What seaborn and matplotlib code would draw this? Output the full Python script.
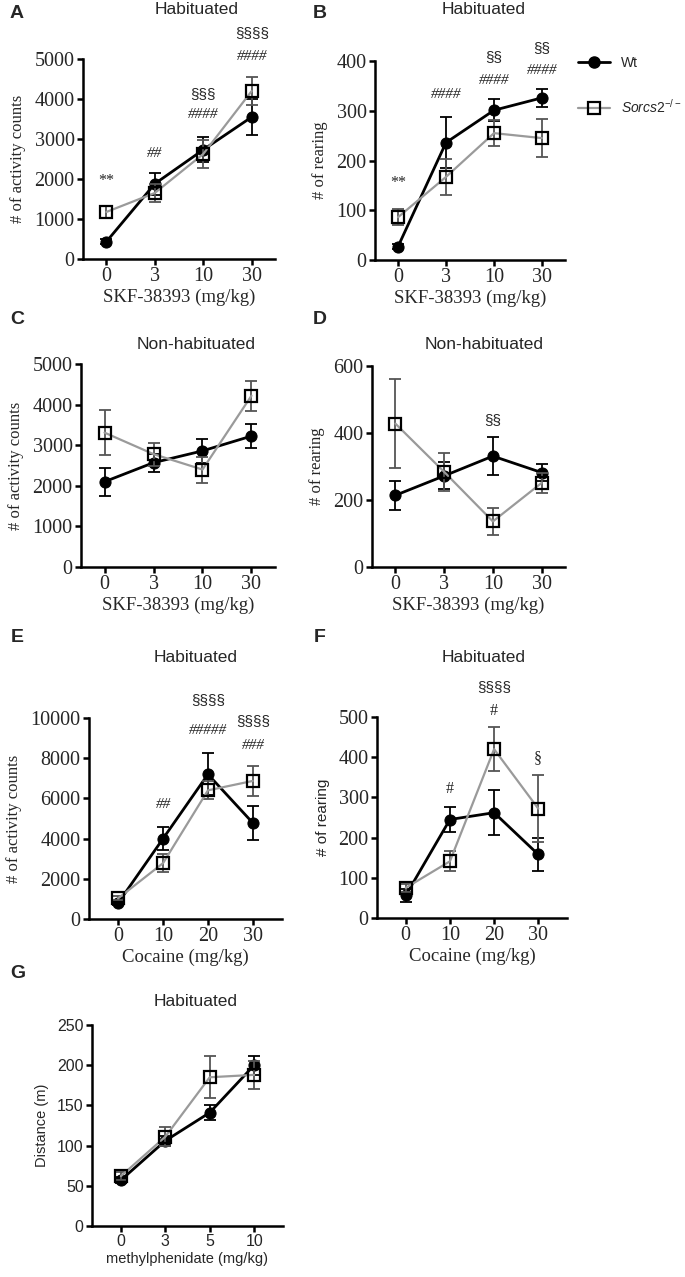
import numpy as np
import pandas as pd
import matplotlib
matplotlib.use("Agg")
import matplotlib.pyplot as plt
import seaborn as sns
from matplotlib.lines import Line2D

# ---------------- data ----------------
skf_doses = ["0", "3", "10", "30"]
cocaine_doses = ["0", "10", "20", "30"]
mph_doses = ["0", "3", "5", "10"]

A_wt_mean = [430, 1880, 2730, 3550]
A_wt_sem = [60, 280, 310, 450]
A_ko_mean = [1175, 1650, 2625, 4200]
A_ko_sem = [140, 220, 340, 350]

B_wt_mean = [27, 236, 301, 326]
B_wt_sem = [5, 52, 22, 18]
B_ko_mean = [86, 167, 255, 245]
B_ko_sem = [16, 37, 26, 38]

C_wt_mean = [2100, 2570, 2860, 3225]
C_wt_sem = [340, 220, 300, 300]
C_ko_mean = [3310, 2780, 2400, 4220]
C_ko_sem = [560, 280, 320, 370]

D_wt_mean = [214, 272, 331, 282]
D_wt_sem = [43, 40, 57, 26]
D_ko_mean = [428, 284, 136, 251]
D_ko_sem = [132, 57, 41, 30]

E_wt_mean = [800, 4000, 7200, 4780]
E_wt_sem = [100, 570, 1050, 850]
E_ko_mean = [1030, 2780, 6400, 6870]
E_ko_sem = [100, 450, 450, 750]

F_wt_mean = [56, 245, 262, 158]
F_wt_sem = [15, 32, 56, 40]
F_ko_mean = [75, 141, 420, 272]
F_ko_sem = [10, 25, 54, 84]

G_wt_mean = [57, 106, 141, 200]
G_wt_sem = [4, 6, 9, 12]
G_ko_mean = [62, 111, 185, 188]
G_ko_sem = [5, 12, 26, 17]

# annotations: (x index, y value, text, kind)
A_notes = [(0, 1950, "**", "s"), (1, 2630, "##", "h"), (2, 4130, "§§§", "p"),
           (2, 3610, "####", "h"), (3, 5650, "§§§§", "p"), (3, 5070, "####", "h")]
B_notes = [(0, 155, "**", "s"), (1, 333, "####", "h"), (2, 407, "§§", "p"),
           (2, 361, "####", "h"), (3, 426, "§§", "p"), (3, 381, "####", "h")]
D_notes = [(2, 438, "§§", "p")]
E_notes = [(1, 5700, "##", "h"), (2, 10870, "§§§§", "p"), (2, 9400, "#####", "h"),
           (3, 9830, "§§§§", "p"), (3, 8630, "###", "h")]
F_notes = [(1, 322, "#", "s"), (2, 575, "§§§§", "p"), (2, 516, "#", "s"), (3, 397, "§", "s")]

sns.set_style("ticks")
SERIF = ["Liberation Serif", "DejaVu Serif"]
SANS = ["Liberation Sans", "DejaVu Sans"]
plt.rcParams["font.family"] = SANS
plt.rcParams["mathtext.fontset"] = "custom"
plt.rcParams["mathtext.rm"] = "Liberation Sans"
plt.rcParams["mathtext.it"] = "Liberation Sans:italic"

W, H = 685, 1277
fig = plt.figure(figsize=(W / 100, H / 100), dpi=100)

KO_COLOR = "#9a9a9a"
KO_ERR = "#555555"


def add_ax(left, right, top, bottom):
    return fig.add_axes([left / W, 1 - bottom / H, (right - left) / W, (bottom - top) / H])


def draw(ax, doses, wt_m, wt_s, ko_m, ko_s, ymax, ystep, xlabel, ylabel,
         tick_font, label_font, ylabel_font, xpad, notes=None, tick_size=14.5, lab_size=13.5,
         ylab_size=12):
    x = np.arange(len(doses))
    df = pd.DataFrame({"x": np.concatenate([x, x]),
                       "mean": np.concatenate([wt_m, ko_m]),
                       "sem": np.concatenate([wt_s, ko_s]),
                       "genotype": ["Wt"] * len(x) + ["Sorcs2"] * len(x)})
    wt = df[df.genotype == "Wt"]
    ko = df[df.genotype == "Sorcs2"]
    ax.errorbar(wt["x"], wt["mean"], yerr=wt["sem"], fmt="none", ecolor="black",
                elinewidth=1.3, capsize=4.5, capthick=1.3, zorder=2, clip_on=False)
    sns.lineplot(data=wt, x="x", y="mean", ax=ax, color="black", lw=2.0, marker="o",
                 markersize=8, markerfacecolor="black", markeredgecolor="black",
                 zorder=3, legend=False, errorbar=None)
    ax.errorbar(ko["x"], ko["mean"], yerr=ko["sem"], fmt="none", ecolor=KO_ERR,
                elinewidth=1.3, capsize=4.5, capthick=1.3, zorder=4, clip_on=False)
    sns.lineplot(data=ko, x="x", y="mean", ax=ax, color=KO_COLOR, lw=1.6, marker="s",
                 markersize=8, markerfacecolor="none", markeredgecolor="black",
                 markeredgewidth=1.6, zorder=5, legend=False, errorbar=None)
    for ln in ax.lines:
        ln.set_clip_on(False)
    ax.set_xlim(-xpad, len(x) - 1 + xpad)
    ax.set_ylim(0, ymax)
    ax.set_yticks(np.arange(0, ymax + 1, ystep))
    ax.set_xticks(x)
    ax.set_xticklabels(doses)
    for t in ax.get_xticklabels() + ax.get_yticklabels():
        t.set_family(tick_font)
        t.set_fontsize(tick_size)
    ax.set_xlabel(xlabel, family=label_font, fontsize=lab_size, labelpad=2)
    ax.set_ylabel(ylabel, family=ylabel_font, fontsize=ylab_size, labelpad=6)
    sns.despine(ax=ax)
    for s in ["left", "bottom"]:
        ax.spines[s].set_linewidth(1.8)
        ax.spines[s].set_color("black")
    ax.tick_params(axis="both", length=4, width=1.8, color="black", pad=2)
    if notes:
        for xi, yv, txt, kind in notes:
            if kind == "h":
                ax.text(xi, yv, txt, ha="center", va="center", family=SERIF,
                        style="italic", fontsize=11, clip_on=False)
            elif kind == "s":
                ax.text(xi, yv, txt, ha="center", va="center", family=SERIF,
                        fontsize=11.5, clip_on=False)
            else:
                ax.text(xi, yv, txt, ha="center", va="center", family=SANS,
                        fontsize=11, clip_on=False)


axA = add_ax(83, 275, 59, 259)
draw(axA, skf_doses, A_wt_mean, A_wt_sem, A_ko_mean, A_ko_sem, 5000, 1000,
     "SKF-38393 (mg/kg)", "# of activity counts", SERIF, SERIF, SERIF, 0.48, A_notes)
axB = add_ax(375, 565, 61, 260)
draw(axB, skf_doses, B_wt_mean, B_wt_sem, B_ko_mean, B_ko_sem, 400, 100,
     "SKF-38393 (mg/kg)", "# of rearing", SERIF, SERIF, SERIF, 0.48, B_notes)
axC = add_ax(81, 275, 364, 567)
draw(axC, skf_doses, C_wt_mean, C_wt_sem, C_ko_mean, C_ko_sem, 5000, 1000,
     "SKF-38393 (mg/kg)", "# of activity counts", SERIF, SERIF, SERIF, 0.48)
axD = add_ax(372, 565, 366, 567)
draw(axD, skf_doses, D_wt_mean, D_wt_sem, D_ko_mean, D_ko_sem, 600, 200,
     "SKF-38393 (mg/kg)", "# of rearing", SERIF, SERIF, SERIF, 0.48, D_notes)
axE = add_ax(89, 282, 718, 919)
draw(axE, cocaine_doses, E_wt_mean, E_wt_sem, E_ko_mean, E_ko_sem, 10000, 2000,
     "Cocaine (mg/kg)", "# of activity counts", SERIF, SERIF, SERIF, 0.65, E_notes)
axF = add_ax(377, 567, 717, 918)
draw(axF, cocaine_doses, F_wt_mean, F_wt_sem, F_ko_mean, F_ko_sem, 500, 100,
     "Cocaine (mg/kg)", "# of rearing", SERIF, SERIF, SANS, 0.65, F_notes, ylab_size=11)
axG = add_ax(92, 283, 1025, 1226)
draw(axG, mph_doses, G_wt_mean, G_wt_sem, G_ko_mean, G_ko_sem, 250, 50,
     "methylphenidate (mg/kg)", "Distance (m)", SANS, SANS, SANS, 0.65,
     tick_size=11.5, lab_size=10.5, ylab_size=10.5)

# titles
titles = [(197, 9, "Habituated"), (484, 9, "Habituated"),
          (196, 345, "Non-habituated"), (484, 345, "Non-habituated"),
          (196, 658, "Habituated"), (484, 658, "Habituated"),
          (196, 1001, "Habituated")]
for xx, yy, tt in titles:
    fig.text(xx / W, 1 - yy / H, tt, ha="center", va="center", family=SANS, fontsize=12.5)

# panel letters
letters = [(17, 13, "A"), (320, 13, "B"), (17, 320, "C"), (320, 320, "D"),
           (17, 638, "E"), (320, 638, "F"), (18, 974, "G")]
for xx, yy, tt in letters:
    fig.text(xx / W, 1 - yy / H, tt, ha="center", va="center", family=SANS,
             fontsize=14, fontweight="bold")

# legend
handles = [Line2D([], [], color="black", lw=2.0, marker="o", markersize=8,
                  markerfacecolor="black", markeredgecolor="black"),
           Line2D([], [], color=KO_COLOR, lw=1.6, marker="s", markersize=8,
                  markerfacecolor="none", markeredgecolor="black", markeredgewidth=1.6)]
leg = fig.legend(handles, ["Wt", r"$\it{Sorcs2}^{-/-}$"], loc="upper left",
                 bbox_to_anchor=(578 / W, 1 - 56 / H), frameon=False, borderpad=0,
                 borderaxespad=0, prop={"family": SANS, "size": 10}, handlelength=2.3,
                 labelspacing=2.0, handletextpad=0.8)

fig.savefig("out.png", dpi=100, facecolor="white")
